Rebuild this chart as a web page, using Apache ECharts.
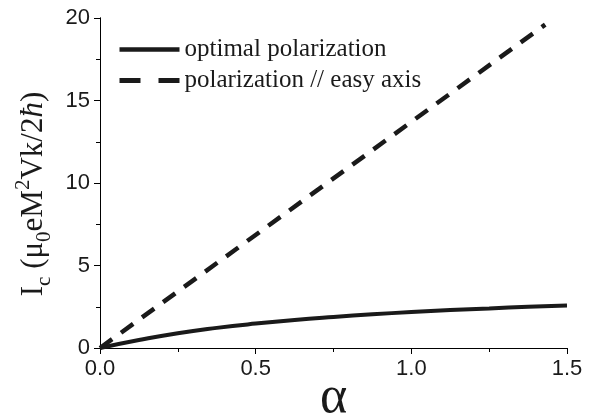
<!DOCTYPE html>
<html>
<head>
<meta charset="utf-8">
<script src="https://cdn.jsdelivr.net/npm/echarts@6/dist/echarts.min.js"></script>
<style>
  html, body { margin: 0; padding: 0; background: #fff; }
  #chart { width: 603px; height: 413px; }
</style>
</head>
<body>
<div id="chart"></div>
<script>
var alphaOpt = [0, 0.125, 0.25, 0.375, 0.5, 0.625, 0.75, 0.875, 1.0, 1.125, 1.25, 1.375, 1.5];
var icOpt = [0, 0.48, 0.9, 1.22, 1.48, 1.7, 1.88, 2.04, 2.18, 2.3, 2.4, 2.5, 2.58];
var alphaEasy = [0, 1.43];
var icEasy = [0, 19.6];
var xTicks = [0, 0.5, 1.0, 1.5];
var yTicks = [0, 5, 10, 15, 20];

function pairs(xs, ys) {
	return xs.map(function (x, i) { return [x, ys[i]]; });
}

var myChart = echarts.init(document.getElementById('chart'));

var ink = '#1a1a1a';
var labelFont = {
	fontFamily: 'Liberation Sans',
	fontSize: 22,
	color: ink
};

var option = {
	animation: false,
	grid: {
		left: 100,
		right: 36,
		top: 18,
		bottom: 65,
		outerBoundsMode: 'none',
		containLabel: false
	},
	legend: {
		orient: 'vertical',
		left: 112,
		top: 32,
		itemWidth: 60,
		itemHeight: 14,
		itemGap: 6,
		itemStyle: { opacity: 0 },
		textStyle: {
			fontFamily: 'Liberation Serif',
			fontSize: 25,
			color: ink
		},
		data: [{
			name: 'optimal polarization',
			lineStyle: { color: ink, width: 4.5, type: 'solid' }
		}, {
			name: 'polarization // easy axis',
			lineStyle: { color: ink, width: 5, type: [21, 18], cap: 'butt' }
		}]
	},
	xAxis: [{
		type: 'value',
		min: 0,
		max: 1.5,
		interval: 0.5,
		name: 'α',
		nameLocation: 'middle',
		nameGap: 24,
		nameMoveOverlap: false,
		nameTextStyle: {
			fontFamily: 'Liberation Serif',
			fontSize: 52,
			color: ink
		},
		axisLine: { lineStyle: { color: '#000', width: 1 } },
		axisTick: { inside: false, length: 6, lineStyle: { color: '#000' } },
		minorTick: { show: true, splitNumber: 2, length: 4, lineStyle: { color: '#000' } },
		splitLine: { show: false },
		axisLabel: Object.assign({
			margin: 10,
			formatter: function (v) { return v.toFixed(1); }
		}, labelFont)
	}, {
		type: 'value',
		position: 'top',
		min: 0,
		max: 1.5,
		interval: 0.5,
		axisLine: { lineStyle: { color: '#000', width: 1 } },
		axisTick: { inside: true, length: 6, lineStyle: { color: '#000' } },
		minorTick: { show: true, splitNumber: 2, length: 4, lineStyle: { color: '#000' } },
		splitLine: { show: false },
		axisLabel: { show: false }
	}],
	yAxis: [{
		type: 'value',
		min: 0,
		max: 20,
		interval: 5,
		name: '{b|I}{s|c}{b| (μ}{s|0}{b|eM}{p|2}{b|Vk/2}{i|ħ}{b|)}',
		nameLocation: 'middle',
		nameGap: 38,
		nameRotate: 90,
		nameTextStyle: {
			fontFamily: 'Liberation Serif',
			color: ink,
			padding: [0, 22, 0, 0],
			rich: {
				b: { fontFamily: 'Liberation Serif', fontSize: 31, lineHeight: 42, verticalAlign: 'middle', color: ink },
				i: { fontFamily: 'Liberation Serif', fontStyle: 'italic', fontSize: 31, lineHeight: 42, verticalAlign: 'middle', color: ink },
				s: { fontFamily: 'Liberation Serif', fontSize: 21, lineHeight: 42, verticalAlign: 'bottom', color: ink },
				p: { fontFamily: 'Liberation Serif', fontSize: 21, lineHeight: 42, verticalAlign: 'top', color: ink }
			}
		},
		axisLine: { lineStyle: { color: '#000', width: 1 } },
		axisTick: { inside: false, length: 6, lineStyle: { color: '#000' } },
		minorTick: { show: true, splitNumber: 2, length: 4, lineStyle: { color: '#000' } },
		splitLine: { show: false },
		axisLabel: Object.assign({ margin: 10 }, labelFont)
	}, {
		type: 'value',
		position: 'right',
		min: 0,
		max: 20,
		interval: 5,
		axisLine: { lineStyle: { color: '#000', width: 1 } },
		axisTick: { inside: true, length: 6, lineStyle: { color: '#000' } },
		minorTick: { show: true, splitNumber: 2, length: 4, lineStyle: { color: '#000' } },
		splitLine: { show: false },
		axisLabel: { show: false }
	}],
	series: [{
		name: 'optimal polarization',
		type: 'line',
		smooth: true,
		symbol: 'none',
		data: pairs(alphaOpt, icOpt),
		lineStyle: { color: ink, width: 4, type: 'solid' },
		itemStyle: { color: ink }
	}, {
		name: 'polarization // easy axis',
		type: 'line',
		symbol: 'none',
		data: pairs(alphaEasy, icEasy),
		lineStyle: { color: ink, width: 4.5, type: [15, 11], cap: 'butt' },
		itemStyle: { color: ink }
	}]
};

myChart.setOption(option);
</script>
</body>
</html>
